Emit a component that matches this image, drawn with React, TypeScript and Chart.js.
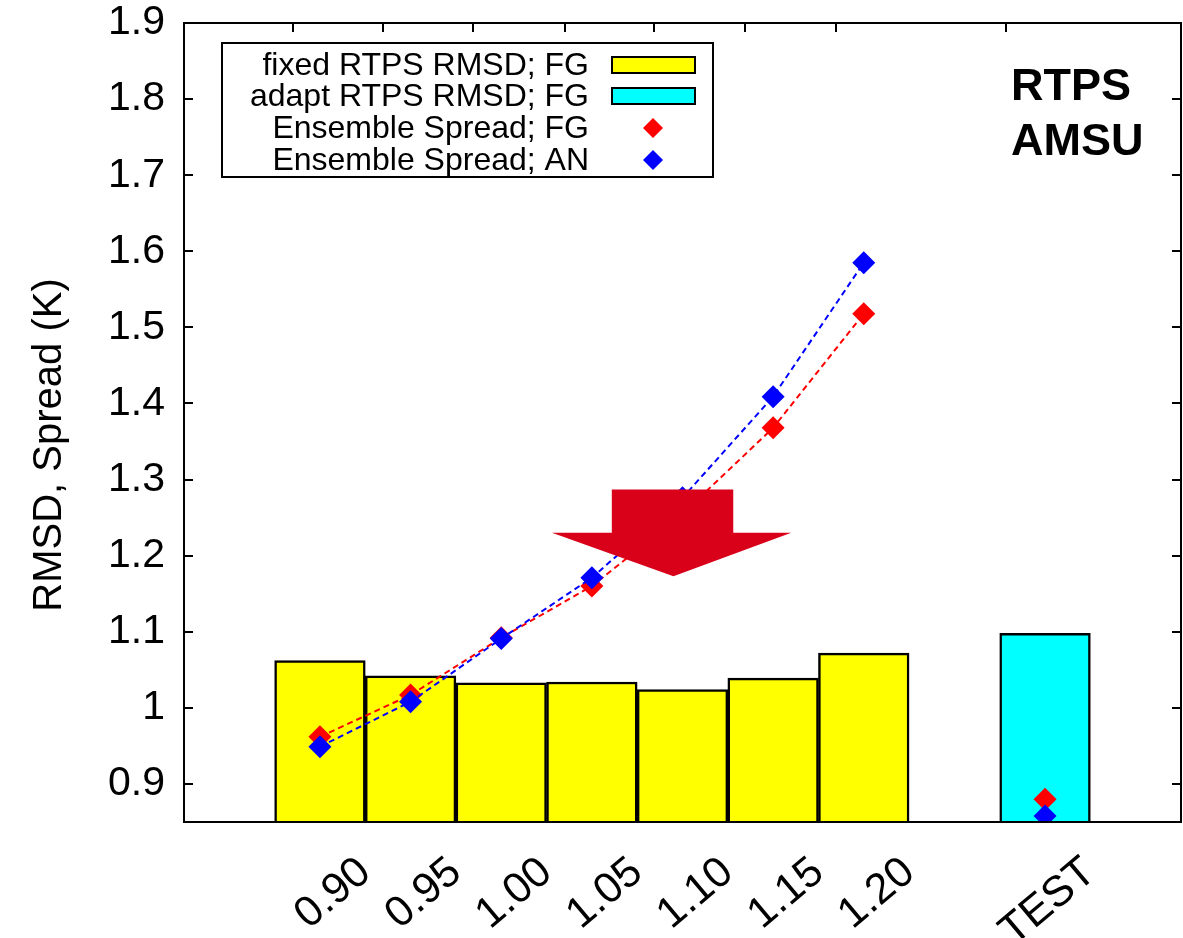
import React, { useEffect, useRef } from 'react';
import { Chart, registerables } from 'chart.js';

Chart.register(...registerables);

// ---- data ----
const X_LABELS = ['0.90', '0.95', '1.00', '1.05', '1.10', '1.15', '1.20', 'TEST'];
const X_INDEX = [0, 1, 2, 3, 4, 5, 6, 8];
const FIXED_INDEX = [0, 1, 2, 3, 4, 5, 6];
const TEST_INDEX = [8];
const FIXED_RMSD_FG = [1.062, 1.042, 1.033, 1.034, 1.024, 1.039, 1.072];
const ADAPT_RMSD_FG = [1.098];
const SPREAD_FG = [0.962, 1.017, 1.092, 1.16, 1.255, 1.368, 1.518];
const SPREAD_AN = [0.949, 1.008, 1.091, 1.171, 1.276, 1.409, 1.585];
const TEST_SPREAD_FG = [0.88];
const TEST_SPREAD_AN = [0.858];
const Y_TICKS = [0.9, 1.0, 1.1, 1.2, 1.3, 1.4, 1.5, 1.6, 1.7, 1.8, 1.9];
const TOP_TICK_POS = [-0.3, 0.7, 1.69, 2.7, 3.69, 4.69, 5.69, 7.57];
const LEGEND_LABELS = [
  'fixed RTPS RMSD; FG',
  'adapt RTPS RMSD; FG',
  'Ensemble Spread; FG',
  'Ensemble Spread; AN',
];
const TITLE_LINES = ['RTPS', 'AMSU'];
const Y_TITLE = 'RMSD, Spread (K)';
// arrow annotation in data units (x index, y value)
const ARROW_SHAFT_X = [3.22, 4.56];
const ARROW_HEAD_X = [2.56, 5.2];
const ARROW_TIP_X = 3.9;
const ARROW_Y = [1.287, 1.23, 1.173];

const YELLOW = '#ffff00';
const CYAN = '#00ffff';
const RED = '#ff0000';
const BLUE = '#0000ff';
const ARROW_RED = '#d9001a';
const FONT = '"Liberation Sans", Arial, Helvetica, sans-serif';

const overlayPlugin = {
  id: 'overlay',
  afterDatasetsDraw(chart: any) {
    const { ctx, chartArea: a, scales } = chart;
    const x = scales.x;
    const y = scales.y;
    ctx.save();

    // red arrow
    ctx.fillStyle = ARROW_RED;
    ctx.beginPath();
    ctx.moveTo(x.getPixelForValue(ARROW_SHAFT_X[0]), y.getPixelForValue(ARROW_Y[0]));
    ctx.lineTo(x.getPixelForValue(ARROW_SHAFT_X[1]), y.getPixelForValue(ARROW_Y[0]));
    ctx.lineTo(x.getPixelForValue(ARROW_SHAFT_X[1]), y.getPixelForValue(ARROW_Y[1]));
    ctx.lineTo(x.getPixelForValue(ARROW_HEAD_X[1]), y.getPixelForValue(ARROW_Y[1]));
    ctx.lineTo(x.getPixelForValue(ARROW_TIP_X), y.getPixelForValue(ARROW_Y[2]));
    ctx.lineTo(x.getPixelForValue(ARROW_HEAD_X[0]), y.getPixelForValue(ARROW_Y[1]));
    ctx.lineTo(x.getPixelForValue(ARROW_SHAFT_X[0]), y.getPixelForValue(ARROW_Y[1]));
    ctx.closePath();
    ctx.fill();

    // frame
    ctx.strokeStyle = '#000';
    ctx.lineWidth = 2;
    ctx.strokeRect(a.left, a.top, a.right - a.left, a.bottom - a.top);

    const line = (x1: number, y1: number, x2: number, y2: number) => {
      ctx.beginPath();
      ctx.moveTo(x1, y1);
      ctx.lineTo(x2, y2);
      ctx.stroke();
    };
    Y_TICKS.forEach((v) => {
      const py = Math.round(y.getPixelForValue(v));
      line(a.left, py, a.left + 9, py);
      line(a.right, py, a.right - 9, py);
    });
    TOP_TICK_POS.forEach((v) => {
      const px = Math.round(x.getPixelForValue(v));
      line(px, a.top, px, a.top + 9);
    });

    // legend
    const lx0 = 222, ly0 = 43, lx1 = 713, ly1 = 177;
    ctx.fillStyle = '#fff';
    ctx.fillRect(lx0, ly0, lx1 - lx0, ly1 - ly0);
    ctx.strokeRect(lx0, ly0, lx1 - lx0, ly1 - ly0);
    ctx.font = `32px ${FONT}`;
    ctx.textAlign = 'right';
    ctx.textBaseline = 'middle';
    const rows = [65, 96, 128, 160];
    LEGEND_LABELS.forEach((t, i) => {
      ctx.fillStyle = '#000';
      ctx.fillText(t, 589, rows[i] + 1);
    });
    // samples
    [YELLOW, CYAN].forEach((c, i) => {
      ctx.fillStyle = c;
      ctx.fillRect(612, rows[i] - 8, 83, 16);
      ctx.strokeRect(612, rows[i] - 8, 83, 16);
    });
    [RED, BLUE].forEach((c, i) => {
      const cx = 653, cy = rows[i + 2], r = 10;
      ctx.fillStyle = c;
      ctx.beginPath();
      ctx.moveTo(cx - r, cy);
      ctx.lineTo(cx, cy - r);
      ctx.lineTo(cx + r, cy);
      ctx.lineTo(cx, cy + r);
      ctx.closePath();
      ctx.fill();
    });

    // RTPS / AMSU label
    ctx.fillStyle = '#000';
    ctx.font = `bold 45px ${FONT}`;
    ctx.textAlign = 'left';
    ctx.textBaseline = 'alphabetic';
    ctx.fillText(TITLE_LINES[0], 1011, 100);
    ctx.fillText(TITLE_LINES[1], 1011, 155);

    // y title
    ctx.translate(50, 445);
    ctx.rotate(-Math.PI / 2);
    ctx.font = `40px ${FONT}`;
    ctx.textAlign = 'center';
    ctx.textBaseline = 'middle';
    ctx.fillText(Y_TITLE, 0, 0);

    ctx.restore();
  },
};

export default function App() {
  const ref = useRef<HTMLCanvasElement | null>(null);

  useEffect(() => {
    if (!ref.current) return;
    const chart = new Chart(ref.current, {
      type: 'bar',
      data: {
        datasets: [
          {
            type: 'bar',
            label: LEGEND_LABELS[0],
            data: FIXED_INDEX.map((i, k) => ({ x: i, y: FIXED_RMSD_FG[k] })),
            backgroundColor: YELLOW,
            borderColor: '#000',
            borderWidth: 2.5,
            barPercentage: 1,
            categoryPercentage: 1,
            grouped: false,
            order: 10,
          } as any,
          {
            type: 'bar',
            label: LEGEND_LABELS[1],
            data: TEST_INDEX.map((i, k) => ({ x: i, y: ADAPT_RMSD_FG[k] })),
            backgroundColor: CYAN,
            borderColor: '#000',
            borderWidth: 2.5,
            barPercentage: 1,
            categoryPercentage: 1,
            grouped: false,
            order: 9,
          } as any,
          {
            type: 'line',
            label: LEGEND_LABELS[2],
            data: FIXED_INDEX.map((i, k) => ({ x: i, y: SPREAD_FG[k] })),
            borderColor: RED,
            borderWidth: 2,
            borderDash: [6, 4],
            pointStyle: 'rectRot',
            pointRadius: 11.5,
            pointBackgroundColor: RED,
            pointBorderWidth: 0,
            order: 4,
          } as any,
          {
            type: 'line',
            label: LEGEND_LABELS[3],
            data: FIXED_INDEX.map((i, k) => ({ x: i, y: SPREAD_AN[k] })),
            borderColor: BLUE,
            borderWidth: 2,
            borderDash: [6, 4],
            pointStyle: 'rectRot',
            pointRadius: 11.5,
            pointBackgroundColor: BLUE,
            pointBorderWidth: 0,
            order: 3,
          } as any,
          {
            type: 'line',
            label: LEGEND_LABELS[2] + ' (TEST)',
            data: TEST_INDEX.map((i, k) => ({ x: i, y: TEST_SPREAD_FG[k] })),
            showLine: false,
            pointStyle: 'rectRot',
            pointRadius: 11.5,
            pointBackgroundColor: RED,
            pointBorderWidth: 0,
            order: 2,
          } as any,
          {
            type: 'line',
            label: LEGEND_LABELS[3] + ' (TEST)',
            data: TEST_INDEX.map((i, k) => ({ x: i, y: TEST_SPREAD_AN[k] })),
            showLine: false,
            pointStyle: 'rectRot',
            pointRadius: 11.5,
            pointBackgroundColor: BLUE,
            pointBorderWidth: 0,
            order: 1,
          } as any,
        ],
      },
      options: {
        responsive: false,
        animation: false,
        layout: { autoPadding: false, padding: { top: 23, right: 2, left: 0, bottom: 0 } },
        plugins: {
          legend: { display: false },
          tooltip: { enabled: false },
        },
        scales: {
          x: {
            type: 'linear',
            min: -1.5,
            max: 9.5,
            offset: false,
            grid: { display: false, drawTicks: false },
            border: { display: false },
            afterBuildTicks: (scale: any) => {
              scale.ticks = X_INDEX.map((v) => ({ value: v + 0.5 }));
            },
            afterFit: (scale: any) => {
              scale.height = 116;
              scale.paddingLeft = 0;
              scale.paddingRight = 0;
            },
            ticks: {
              autoSkip: false,
              minRotation: 40,
              maxRotation: 40,
              padding: 25,
              color: '#000',
              font: { family: FONT, size: 43 },
              callback: (_v: any, i: number) => X_LABELS[i],
            },
          },
          y: {
            type: 'linear',
            min: 0.85,
            max: 1.9,
            grid: { display: false, drawTicks: false },
            border: { display: false },
            afterBuildTicks: (scale: any) => {
              scale.ticks = Y_TICKS.map((v) => ({ value: v }));
            },
            afterFit: (scale: any) => {
              scale.width = 184;
              scale.paddingTop = 0;
              scale.paddingBottom = 0;
            },
            ticks: {
              padding: 19,
              color: '#000',
              font: { family: FONT, size: 41 },
              callback: (v: any) => (Math.abs(v - 1) < 1e-9 ? '1' : Number(v).toFixed(1)),
            },
          },
        },
      } as any,
      plugins: [overlayPlugin],
    });
    return () => chart.destroy();
  }, []);

  return (
    <div style={{ position: 'absolute', left: 0, top: 0, width: 1183, height: 938, background: '#fff' }}>
      <canvas ref={ref} width={1183} height={938} style={{ display: 'block' }} />
    </div>
  );
}
